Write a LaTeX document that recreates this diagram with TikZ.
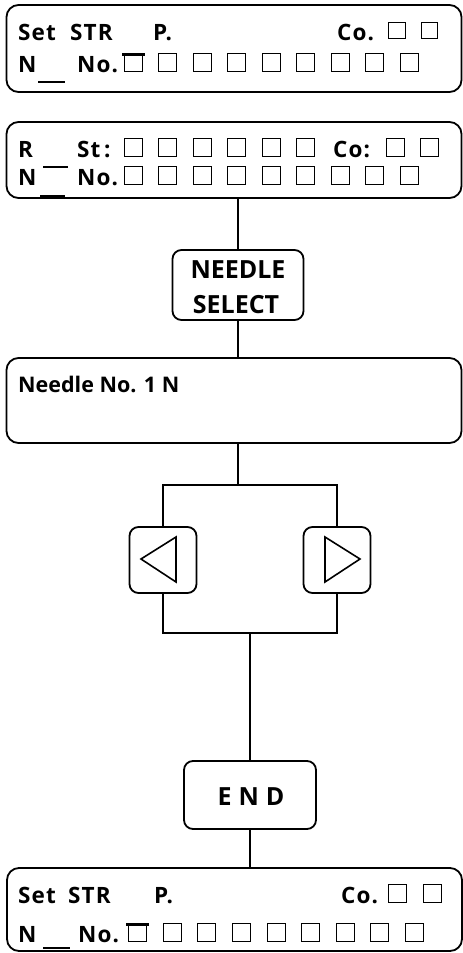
\documentclass[tikz,border=0pt]{standalone}
\usepackage{fontspec}
\setmainfont{Open Sans}
\newfontfamily\rowfont{Open Sans}[LetterSpace=5]
\begin{document}
\begin{tikzpicture}[x=1pt,y=-1pt,
  panel/.style={draw, line width=1.8pt, rounded corners=12pt, inner sep=0pt, minimum width=455pt},
  keybox/.style={draw, line width=1.8pt, rounded corners=9pt, inner sep=0pt},
  wire/.style={line width=1.8pt},
  txt/.style={inner sep=0pt, anchor=base west, font=\rowfont\fontsize{22.5}{26}\selectfont\bfseries},
  ntxt/.style={inner sep=0pt, anchor=base west, font=\fontsize{21.5}{24}\selectfont\bfseries},
  big/.style={inner sep=0pt, anchor=base, font=\fontsize{25}{29}\selectfont\bfseries},
  sq/.style={draw, line width=1.2pt, inner sep=0pt, minimum width=18pt, minimum height=18pt, anchor=south west},
  bar/.style={line width=3pt},
  thin/.style={line width=1.4pt},
  tri/.style={line width=1.6pt, line join=miter}
]
\useasboundingbox (0,0) rectangle (463,953);

% ---------- panel 1 ----------
\node[panel, minimum height=87pt] (p1) at (234,48.5) {};
\node[txt] (p1a) at (18,40) {Set};
\node[txt] (p1b) at (70,40) {STR};
\node[txt] (p1c) at (153,40) {P.};
\node[txt] (p1d) at (337,40) {Co.};
\node[sq, minimum width=17pt, minimum height=16pt] (p1s1) at (388,39) {};
\node[sq, minimum width=16pt, minimum height=16pt] (p1s2) at (421,39) {};
\node[txt] (p1e) at (18,72) {N};
\draw[thin] (38,82) -- (65,82);
\node[txt] (p1f) at (77,72) {No.};
\foreach \xx [count=\k] in {124,158,193,227,262,296,331,365,400} \node[sq] (p1n\k) at (\xx,72) {};
\draw[bar] (122,54) -- (145,54);

% ---------- panel 2 ----------
\node[panel, minimum height=76pt] (p2) at (234,160) {};
\node[txt] (p2a) at (18,157) {R};
\node[txt] (p2b) at (77,157) {St\,:};
\foreach \xx [count=\k] in {124,158,193,227,262,296} \node[sq] (p2t\k) at (\xx,157) {};
\node[txt] (p2c) at (333,157) {Co:};
\node[sq] (p2s1) at (386,157) {};
\node[sq] (p2s2) at (420,157) {};
\node[txt] (p2d) at (18,185) {N};
\draw[thin] (43,167) -- (68,167);
\draw[thin] (40,196) -- (65,196);
\node[txt] (p2e) at (77,185) {No.};
\foreach \xx [count=\k] in {124,158,193,227,262,296,331,365,400} \node[sq] (p2n\k) at (\xx,185) {};

% ---------- NEEDLE SELECT ----------
\node[keybox, minimum width=131pt, minimum height=70pt] (ns) at (238,285) {};
\node[big] (nsa) at (238,278) {NEEDLE};
\node[big] (nsb) at (236,313) {SELECT};

% ---------- panel 3 ----------
\node[panel, minimum height=85pt] (p3) at (234,400.5) {};
\node[ntxt] (p3a) at (18,392) {Needle No. 1 N};

% ---------- arrow keys ----------
\node[keybox, minimum width=67pt, minimum height=66pt] (la) at (163,560) {};
\node[keybox, minimum width=67pt, minimum height=66pt] (ra) at (337,560) {};
\draw[tri] (141,559) -- (176,537) -- (176,582) -- cycle;
\draw[tri] (325,537) -- (360,559) -- (325,582) -- cycle;

% ---------- END ----------
\node[keybox, minimum width=132pt, minimum height=68pt] (end) at (250,795) {};
\node[big] (enda) at (251,805) {E\hspace{7pt}N\hspace{7pt}D};

% ---------- panel 4 ----------
\node[panel, minimum height=83pt] (p4) at (234.5,909.5) {};
\node[txt] (p4a) at (18,903) {Set};
\node[txt] (p4b) at (68,903) {STR};
\node[txt] (p4c) at (154,903) {P.};
\node[txt] (p4d) at (341,903) {Co.};
\node[sq] (p4s1) at (388,903) {};
\node[sq] (p4s2) at (423,903) {};
\node[txt] (p4e) at (18,942) {N};
\draw[thin] (43,948) -- (70,948);
\node[txt] (p4f) at (78,942) {No.};
\foreach \xx [count=\k] in {128,163,197,232,267,301,336,370,405} \node[sq] (p4n\k) at (\xx,942) {};
\draw[bar] (126,924) -- (149,924);

% ---------- connectors ----------
\coordinate (j1) at (238,485);
\coordinate (j2) at (250,633);
\draw[wire] (ns.north |- p2.south) -- (ns.north);
\draw[wire] (ns.south) -- (ns.south |- p3.north);
\draw[wire] (ns.south |- p3.south) -- (j1);
\draw[wire] (la.north) |- (j1) -| (ra.north);
\draw[wire] (la.south) |- (j2) -| (ra.south);
\draw[wire] (j2) -- (end.north);
\draw[wire] (end.south) -- (end.south |- p4.north);
\end{tikzpicture}
\end{document}
